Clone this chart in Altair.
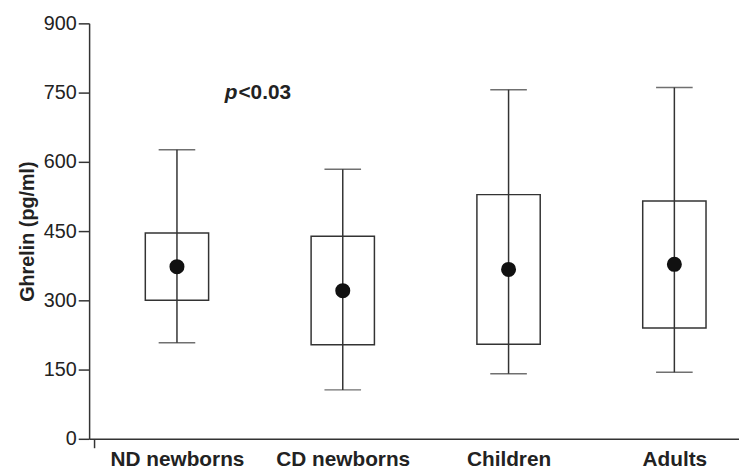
import altair as alt
import pandas as pd

categories = ["ND newborns", "CD newborns", "Children", "Adults"]
positions = [1, 2, 3, 4]
whisker_low = [208, 106, 141, 144]
box_low = [300, 204, 205, 240]
median = [373, 321, 367, 378]
box_high = [446, 439, 529, 515]
whisker_high = [626, 584, 756, 761]

y_ticks = [0, 150, 300, 450, 600, 750, 900]
annot_x = [1.365]
annot_y = [736]

df = pd.DataFrame({
    "cat": categories, "pos": positions, "wl": whisker_low, "q1": box_low,
    "med": median, "q3": box_high, "wh": whisker_high,
})
ann = pd.DataFrame({"x": annot_x, "y": annot_y})

FONT = "Liberation Sans"
LINE = "#333333"

label_expr = ("datum.value < 1 ? '' : " + str(categories) + "[round(datum.value) - 1]")

xscale = alt.Scale(domain=[0.5, 4.36], nice=False, zero=False)
yscale = alt.Scale(domain=[0, 900], nice=False)

x_enc = alt.X("pos:Q", scale=xscale, title=None,
              axis=alt.Axis(values=[0.5] + positions, labelExpr=label_expr, grid=False,
                            domainColor=LINE, domainWidth=1.5, tickColor=LINE, tickWidth=1.5,
                            tickSize=9,
                            tickOpacity={"condition": {"test": "datum.value < 1", "value": 1}, "value": 0},
                            labelFontSize=21, labelFontWeight="bold", labelFont=FONT,
                            labelColor="#222222", labelPadding=1, labelFlush=False))
y_axis = alt.Axis(values=y_ticks, grid=False, domainColor=LINE, domainWidth=1.5,
                  tickColor=LINE, tickWidth=1.5, tickSize=11, labelPadding=2,
                  labelFontSize=20, labelFont=FONT, labelColor="#222222",
                  title="Ghrelin (pg/ml)", titleFont=FONT, titleFontSize=20,
                  titleFontWeight="bold", titleColor="#222222", titlePadding=6)

base = alt.Chart(df)

boxes = base.mark_bar(size=64, fill="white", stroke=LINE, strokeWidth=1.5).encode(
    x=x_enc, y=alt.Y("q1:Q", scale=yscale, axis=y_axis), y2="q3:Q")
whisk = base.mark_rule(color=LINE, strokeWidth=1.5).encode(
    x="pos:Q", y="wl:Q", y2="wh:Q")
cap_lo = base.mark_tick(orient="horizontal", size=37, thickness=1.5, color=LINE).encode(
    x="pos:Q", y="wl:Q")
cap_hi = base.mark_tick(orient="horizontal", size=37, thickness=1.5, color=LINE).encode(
    x="pos:Q", y="wh:Q")
dots = base.mark_circle(size=230, color="#111111", opacity=1).encode(
    x="pos:Q", y="med:Q")

txt_p = alt.Chart(ann).mark_text(text="p", font=FONT, fontSize=21, fontWeight="bold",
                                 fontStyle="italic", align="right", baseline="alphabetic",
                                 color="#222222").encode(x="x:Q", y="y:Q")
txt_v = alt.Chart(ann).mark_text(text="<0.03", font=FONT, fontSize=21, fontWeight="bold",
                                 align="left", baseline="alphabetic", dx=1,
                                 color="#222222").encode(x="x:Q", y="y:Q")

chart = alt.layer(boxes, whisk, cap_lo, cap_hi, dots, txt_p, txt_v).properties(
    width=657, height=420,
    autosize=alt.AutoSizeParams(type="none"),
    padding={"left": 82, "top": 13, "right": 0, "bottom": 29},
).configure_view(stroke=None)

chart.save("out.html", embed_options={"renderer": "svg", "actions": False})
